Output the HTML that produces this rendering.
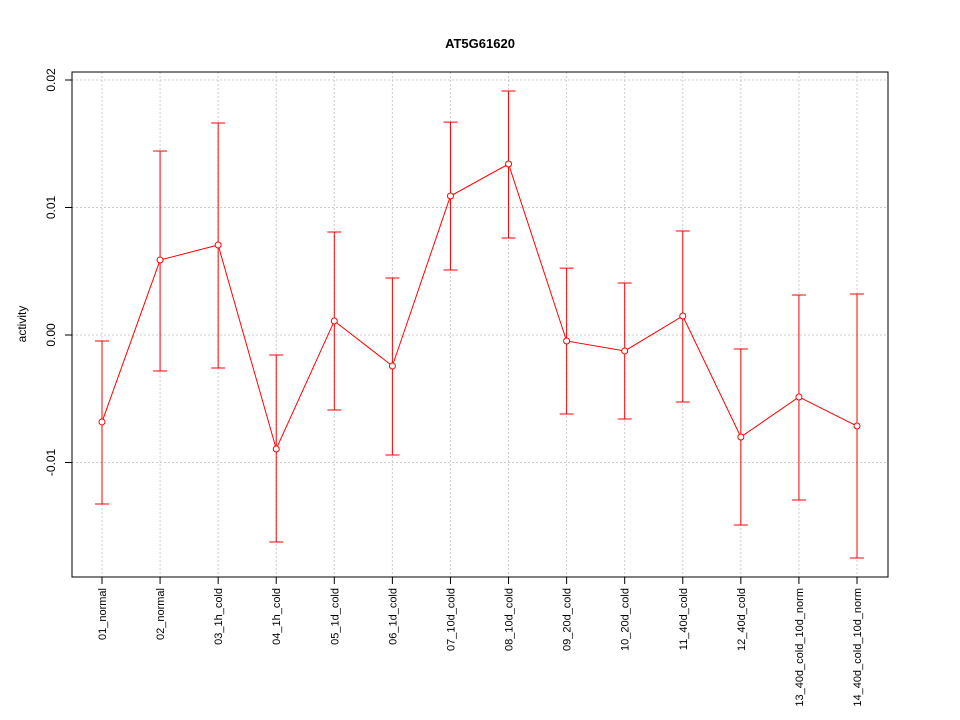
<!DOCTYPE html>
<html><head><meta charset="utf-8"><style>body{margin:0;background:#fff}svg{display:block}</style></head>
<body>
<svg id="chart" width="960" height="720" xmlns="http://www.w3.org/2000/svg" font-family="Liberation Sans, sans-serif">
<text x="480" y="48" text-anchor="middle" font-size="13" font-weight="bold">AT5G61620</text>
<text transform="translate(26,324) rotate(-90)" text-anchor="middle" font-size="12">activity</text>
<g id="grid"></g><g id="axes"></g><g id="marks"></g>
<rect x="72" y="72" width="816" height="505" fill="none" stroke="#000"/>
</svg>
<script>
const categories=["01_normal","02_normal","03_1h_cold","04_1h_cold","05_1d_cold","06_1d_cold","07_10d_cold","08_10d_cold","09_20d_cold","10_20d_cold","11_40d_cold","12_40d_cold","13_40d_cold_10d_norm","14_40d_cold_10d_norm"];
const means=[-0.00682,0.00588,0.00706,-0.00894,0.0011,-0.00243,0.0109,0.01341,-0.00047,-0.00125,0.00149,-0.008,-0.00486,-0.00714];
const upper=[-0.00047,0.01443,0.01663,-0.00157,0.00808,0.00447,0.0167,0.01914,0.00525,0.00408,0.00816,-0.0011,0.00314,0.00322];
const lower=[-0.01325,-0.00282,-0.00259,-0.01624,-0.00588,-0.00941,0.0051,0.00761,-0.0062,-0.00659,-0.00525,-0.0149,-0.01294,-0.01749];
const yTicks=[-0.01,0,0.01,0.02];
const yTickLabels=["-0.01","0.00","0.01","0.02"];
const NS="http://www.w3.org/2000/svg";
const x=i=>102+i*(755/(categories.length-1));
const y=v=>335-v*12750;
function mk(tag,attrs,parent){const e=document.createElementNS(NS,tag);for(const k in attrs)e.setAttribute(k,attrs[k]);document.getElementById(parent).appendChild(e);return e;}
yTicks.forEach((t,i)=>{
 const g=mk('line',{x1:72,x2:888,y1:y(t),y2:y(t),stroke:'#ccc','stroke-dasharray':'2,2'},'grid');
 
 
 const tk=mk('line',{x1:65,x2:72,y1:y(t),y2:y(t),stroke:'#000'},'axes');
 
 
 const tl=mk('text',{transform:`translate(55,${y(t)}) rotate(-90)`,'text-anchor':'middle','font-size':12},'axes');
 tl.textContent=yTickLabels[i];
 
 
});
categories.forEach((c,i)=>{
 const g=mk('line',{x1:x(i),x2:x(i),y1:72,y2:577,stroke:'#ccc','stroke-dasharray':'2,2'},'grid');
 
 
 const tk=mk('line',{x1:x(i),x2:x(i),y1:577,y2:584,stroke:'#000'},'axes');
 
 
 const tl=mk('text',{transform:`translate(${x(i)+4},588) rotate(-90)`,'text-anchor':'end','font-size':11},'axes');
 tl.textContent=c;
 
 
});
const pl=mk('polyline',{points:means.map((m,i)=>x(i)+','+y(m)).join(' '),fill:'none',stroke:'red'},'marks');


means.forEach((m,i)=>{
 const e=mk('path',{d:`M${x(i)},${y(upper[i])}V${y(lower[i])}M${x(i)-7},${y(upper[i])}H${x(i)+7}M${x(i)-7},${y(lower[i])}H${x(i)+7}`,stroke:'red',fill:'none'},'marks');
 
 
 const p=mk('circle',{cx:x(i),cy:y(m),r:3,fill:'#fff',stroke:'red'},'marks');
 
 
});
</script>
</body></html>
